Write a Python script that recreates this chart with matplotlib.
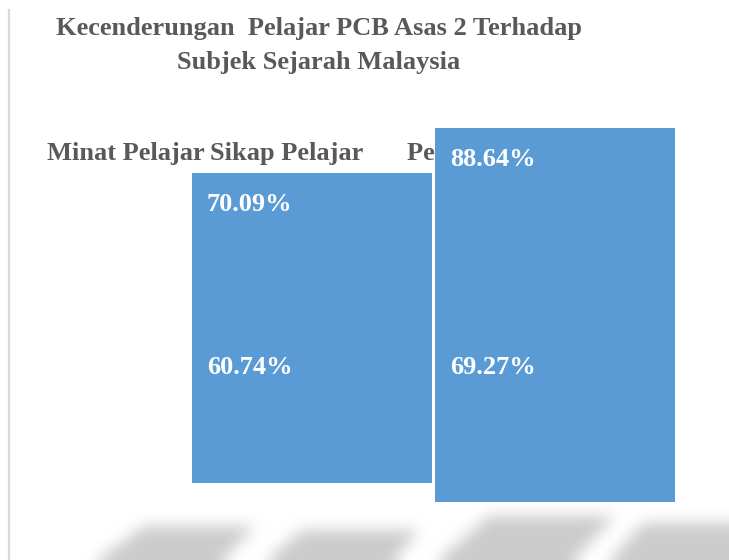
import numpy as np
import matplotlib
matplotlib.use("Agg")
import matplotlib.pyplot as plt
from matplotlib.path import Path
from matplotlib.lines import Line2D

# Data
judul = ["Kecenderungan  Pelajar PCB Asas 2 Terhadap", "Subjek Sejarah Malaysia"]
kategori = ["Minat Pelajar", "Sikap Pelajar", "Persepsi Pelajar\n(Malaysia)"]
nilai_atas = [70.09, 88.64]      # upper segments
nilai_bawah = [60.74, 69.27]     # lower segments

W, H = 729, 560
BIRU = "#5b9bd5"
KELABU = "#595959"
FONT = "Liberation Serif"

fig = plt.figure(figsize=(W / 100, H / 100), dpi=100)


def fx(px):
    return px / W


def fy(py):
    return 1 - py / H


# Soft grey shadows along the bottom (decoration)
bayang = [
    [(145, 526), (255, 526), (218, 565), (90, 565)],
    [(302, 530), (419, 530), (390, 565), (262, 565)],
    [(489, 516), (615, 516), (569, 565), (433, 565)],
    [(643, 523), (760, 523), (740, 565), (606, 565)],
]
yy, xx = np.mgrid[0:H, 0:W]
titik = np.column_stack([xx.ravel() + 0.5, yy.ravel() + 0.5])
topeng = np.zeros(H * W)
for poli in bayang:
    topeng = np.maximum(topeng, Path(poli).contains_points(titik).astype(float))
topeng = topeng.reshape(H, W)


def kabur(a, r):
    for ax_ in (0, 1):
        p = np.pad(a, [(r, r) if i == ax_ else (0, 0) for i in range(2)], mode="edge")
        c = np.cumsum(p, axis=ax_)
        c = np.insert(c, 0, 0, axis=ax_)
        n = a.shape[ax_]
        if ax_ == 0:
            a = (c[2 * r + 1:2 * r + 1 + n] - c[:n]) / (2 * r + 1)
        else:
            a = (c[:, 2 * r + 1:2 * r + 1 + n] - c[:, :n]) / (2 * r + 1)
    return a


topeng = kabur(kabur(topeng, 8), 8)
rgba = np.zeros((H, W, 4))
rgba[..., :3] = 0.8
rgba[..., 3] = topeng
fig.figimage(rgba, 0, 0, origin="upper", zorder=-5)

# Light vertical rule on the left
fig.add_artist(Line2D([fx(9), fx(9)], [fy(10), 0], color="#d9d9d9", lw=1.6))

# Title
for baris, ypx in zip(judul, [28, 62]):
    fig.text(fx(319), fy(ypx), baris, ha="center", va="center", family=FONT,
             weight="bold", size=19, color=KELABU)

# Category labels (sit behind the bars)
for nama, xpx in zip(kategori, [47, 210, 407]):
    fig.text(fx(xpx), fy(142), nama, ha="left", va="top", family=FONT, weight="bold",
             size=19, color=KELABU, multialignment="center", linespacing=1.2, zorder=-1)

x = np.arange(len(nilai_atas))
lebar = 0.9856

# Upper segments
ax_atas = fig.add_axes([fx(190), fy(343), fx(487), 90 * 2.43 / H])
ax_atas.bar(x, nilai_atas, width=lebar, color=BIRU)
ax_atas.set_xlim(-0.5, 1.5)
ax_atas.set_ylim(0, 90)
ax_atas.axis("off")
for xi, v in zip(x, nilai_atas):
    ax_atas.annotate(f"{v:.2f}%", (xi - lebar / 2, v), xytext=(15, -32),
                     textcoords="offset pixels", ha="left", va="center", family=FONT,
                     weight="bold", size=19, color="white")

# Lower segments (hang downward from the shared baseline)
ax_bawah = fig.add_axes([fx(190), fy(343 + 70 * 2.30), fx(487), 70 * 2.30 / H])
ax_bawah.bar(x, nilai_bawah, width=lebar, color=BIRU)
ax_bawah.set_xlim(-0.5, 1.5)
ax_bawah.set_ylim(70, 0)
ax_bawah.axis("off")
for xi, v in zip(x, nilai_bawah):
    ax_bawah.annotate(f"{v:.2f}%", (xi - lebar / 2, 0), xytext=(15, -25),
                      textcoords="offset pixels", ha="left", va="center", family=FONT,
                      weight="bold", size=19, color="white")

fig.savefig("out.png", dpi=100)
